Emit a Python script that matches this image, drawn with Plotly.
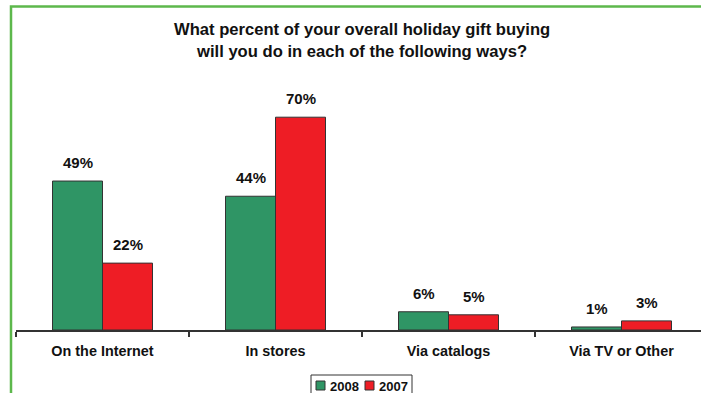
import plotly.graph_objects as go

categories = ["On the Internet", "In stores", "Via catalogs", "Via TV or Other"]
series_names = ["2008", "2007"]
values_2008 = [49, 44, 6, 1]
values_2007 = [22, 70, 5, 3]
title_lines = ["What percent of your overall holiday gift buying",
               "will you do in each of the following ways?"]

GREEN = "#2F9565"
RED = "#EE1D25"
FONT = "Arial, Liberation Sans, sans-serif"

W, H = 701, 393
ml, mr, mt, mb = 16, 0, 102, 63
plot_w = W - ml - mr
plot_h = H - mt - mb
cat_px = 173.0
x_hi = -0.5 + plot_w / cat_px


def px_x(p):
    return (p - ml) / plot_w


def px_y(p):
    return (H - mb - p) / plot_h


fig = go.Figure()
colors = [GREEN, RED]
for name, vals, col in [(series_names[0], values_2008, GREEN), (series_names[1], values_2007, RED)]:
    fig.add_trace(go.Bar(
        x=categories, y=vals, name=name, showlegend=False,
        marker=dict(color=col, line=dict(color="#333333", width=1)),
    ))

annotations = []
for vals, xs in [(values_2008, -25), (values_2007, 25)]:
    for c, v in zip(categories, vals):
        annotations.append(dict(
            x=c, y=v, xref="x", yref="y", text=f"<b>{v}%</b>", showarrow=False,
            xshift=xs, yshift=8, yanchor="bottom",
            font=dict(family=FONT, size=15, color="#111111"),
        ))

annotations.append(dict(
    x=px_x(362), y=px_y(40), xref="paper", yref="paper",
    text="<b>" + "<br>".join(title_lines) + "</b>", showarrow=False,
    xanchor="center", yanchor="middle", align="center",
    font=dict(family=FONT, size=16.6, color="#111111"),
))

shapes = [
    # green frame: only its left and top edges fall inside the picture
    dict(type="rect", xref="paper", yref="paper", layer="below",
         x0=px_x(11), x1=px_x(W + 40), y0=px_y(H + 40), y1=px_y(6.5),
         line=dict(color="#5DB84C", width=2.5), fillcolor="rgba(0,0,0,0)"),
    dict(type="rect", xref="paper", yref="paper",
         x0=px_x(311), x1=px_x(412), y0=px_y(397), y1=px_y(375),
         line=dict(color="#333333", width=1), fillcolor="white"),
]

leg_x = [316, 365]
for i, name in enumerate(series_names):
    x0 = leg_x[i]
    shapes.append(dict(type="rect", xref="paper", yref="paper",
                       x0=px_x(x0), x1=px_x(x0 + 9), y0=px_y(390), y1=px_y(381),
                       line=dict(color="#333333", width=1), fillcolor=colors[i]))
    annotations.append(dict(
        x=px_x(x0 + 12), y=px_y(386), xref="paper", yref="paper",
        text=f"<b>{name}</b>", showarrow=False, xanchor="left", yanchor="middle",
        font=dict(family=FONT, size=13, color="#111111"),
    ))

fig.update_layout(
    width=W, height=H,
    margin=dict(l=ml, r=mr, t=mt, b=mb, pad=0, autoexpand=False),
    paper_bgcolor="white", plot_bgcolor="rgba(0,0,0,0)",
    barmode="group", bargap=0.422, bargroupgap=0,
    font=dict(family=FONT, color="#111111"),
    showlegend=False,
    xaxis=dict(
        type="category", range=[-0.5, x_hi],
        showline=True, linecolor="#333333", linewidth=1.5,
        ticks="outside", ticklen=5, tickcolor="#333333", tickwidth=1.5,
        tickson="boundaries", showgrid=False, ticklabelstandoff=7,
        tickfont=dict(family=FONT, size=14.4, color="#111111", weight="bold"),
    ),
    yaxis=dict(range=[0, 75], visible=False, showgrid=False, zeroline=False),
    annotations=annotations,
    shapes=shapes,
)

fig.write_html("out.html", config={"displayModeBar": False})
